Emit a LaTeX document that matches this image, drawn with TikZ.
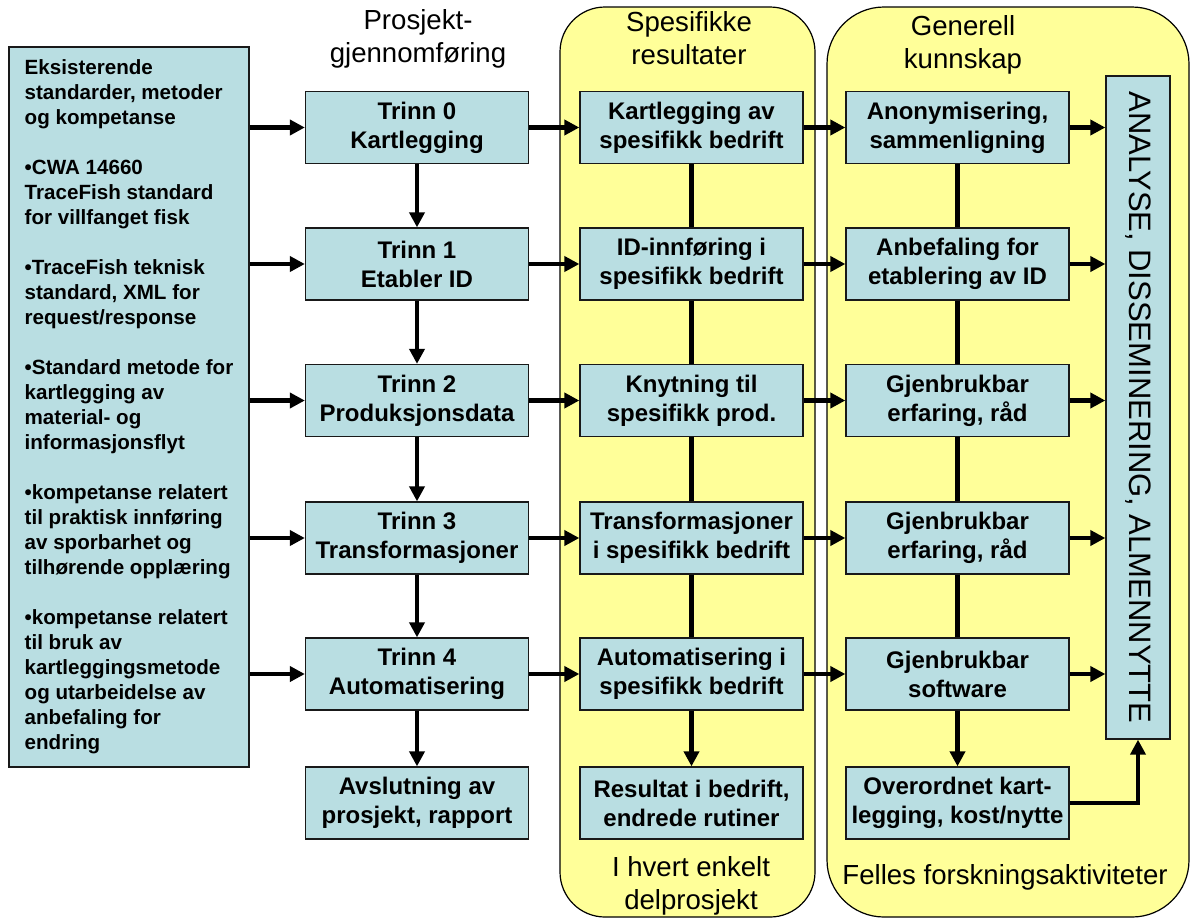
\documentclass[tikz,border=0pt]{standalone}
\usepackage{fontspec}
\setmainfont{Liberation Sans}
\usetikzlibrary{arrows.meta}
\definecolor{boxfill}{RGB}{185,222,226}
\definecolor{panelfill}{RGB}{255,255,153}
\newcommand\bxfont{\fontsize{24}{29}\selectfont\bfseries}
\newcommand\lfont{\fontsize{20.6}{25}\selectfont\bfseries}
\newcommand\ttlfont{\fontsize{27.6}{33.5}\selectfont}
\newcommand\vfont{\fontsize{31}{36}\selectfont}
\begin{document}
\begin{tikzpicture}[x=1pt,y=-1pt,
  box/.style={draw=black!90, line width=1.3pt, fill=boxfill, minimum width=223pt,
    minimum height=72pt, inner sep=0pt, align=center, font=\bxfont},
  lbox/.style={draw=black!90, line width=1.3pt, fill=boxfill, minimum width=240pt,
    minimum height=720pt, inner sep=0pt, align=left, font=\lfont},
  panel/.style={draw=black, line width=1.2pt, fill=panelfill, inner sep=0pt},
  ttl/.style={align=center, font=\ttlfont, inner sep=0pt},
  arr/.style={line width=4.3pt, -{Triangle[length=15pt,width=15pt]}},
  ln/.style={line width=4.3pt}]
\useasboundingbox (0,0) rectangle (1190,919);
% panels
\node[panel, rounded corners=45pt, minimum width=255pt, minimum height=910pt] (P1) at (687.5,462) {};
\node[panel, rounded corners=57pt, minimum width=362pt, minimum height=910pt] (P2) at (1008,462) {};
% titles
\node[ttl] (T1) at (418,39) {Prosjekt-\\gjennomføring};
\node[ttl] (T2) at (689,38) {Spesifikke\\resultater};
\node[ttl] (T3) at (963,45) {Generell\\kunnskap};
\node[ttl] (T4) at (691,886) {I hvert enkelt\\delprosjekt};
\node[ttl] (T5) at (1005,877) {Felles forskningsaktiviteter};
% left box
\node[lbox] (L) at (129,407) {Eksisterende\\standarder, metoder\\og kompetanse\\[25pt]
•CWA 14660\\TraceFish standard\\for villfanget fisk\\[25pt]
•TraceFish teknisk\\standard, XML for\\request/response\\[25pt]
•Standard metode for\\kartlegging av\\material- og\\informasjonsflyt\\[25pt]
•kompetanse relatert\\til praktisk innføring\\av sporbarhet og\\tilhørende opplæring\\[25pt]
•kompetanse relatert\\til bruk av\\kartleggingsmetode\\og utarbeidelse av\\anbefaling for\\endring};
% Trinn column
\node[box] (t0) at (417,127.5) {Trinn 0\\Kartlegging};
\node[box] (t1) at (417,264) {Trinn 1\\Etabler ID};
\node[box] (t2) at (417,400.5) {Trinn 2\\Produksjonsdata};
\node[box] (t3) at (417,538) {Trinn 3\\Transformasjoner};
\node[box] (t4) at (417,674) {Trinn 4\\Automatisering};
\node[box] (t5) at (417,803) {Avslutning av\\prosjekt, rapport};
% specific column
\node[box] (s0) at (691.5,127.5) {Kartlegging av\\spesifikk bedrift};
\node[box] (s1) at (691.5,264) {ID-innføring i\\spesifikk bedrift};
\node[box] (s2) at (691.5,400.5) {Knytning til\\spesifikk prod.};
\node[box] (s3) at (691.5,538) {Transformasjoner\\i spesifikk bedrift};
\node[box] (s4) at (691.5,674) {Automatisering i\\spesifikk bedrift};
\node[box] (s5) at (691.5,803) {Resultat i bedrift,\\endrede rutiner};
% general column
\node[box] (g0) at (957.5,127.5) {Anonymisering,\\sammenligning};
\node[box] (g1) at (957.5,264) {Anbefaling for\\etablering av ID};
\node[box] (g2) at (957.5,400.5) {Gjenbrukbar\\erfaring, råd};
\node[box] (g3) at (957.5,538) {Gjenbrukbar\\erfaring, råd};
\node[box] (g4) at (957.5,674) {Gjenbrukbar\\software};
\node[box] (g5) at (957.5,803) {Overordnet kart-\\legging, kost/nytte};
% vertical box (rotated: east = bottom, south = left side)
\node[box, rotate=-90, minimum width=663pt, minimum height=64pt, font=\vfont] (A) at (1138,407.5)
  {ANALYSE, DISSEMINERING, ALMENNYTTE};
% connectors
\foreach \i in {0,...,4}{
  \draw[arr] (t\i.west -| L.east) -- (t\i.west);
  \draw[arr] (t\i.east) -- (s\i.west);
  \draw[arr] (s\i.east) -- (g\i.west);
  \draw[arr] (g\i.east) -- (g\i.east -| A.south);
}
\foreach \i/\j in {0/1,1/2,2/3,3/4,4/5}{
  \draw[arr] (t\i.south) -- (t\j.north);
}
\foreach \i/\j in {0/1,1/2,2/3,3/4}{
  \draw[ln] (s\i.south) -- (s\j.north);
  \draw[ln] (g\i.south) -- (g\j.north);
}
\draw[arr] (s4.south) -- (s5.north);
\draw[arr] (g4.south) -- (g5.north);
\draw[arr] (g5.east) -| (A.east);
\end{tikzpicture}
\end{document}
